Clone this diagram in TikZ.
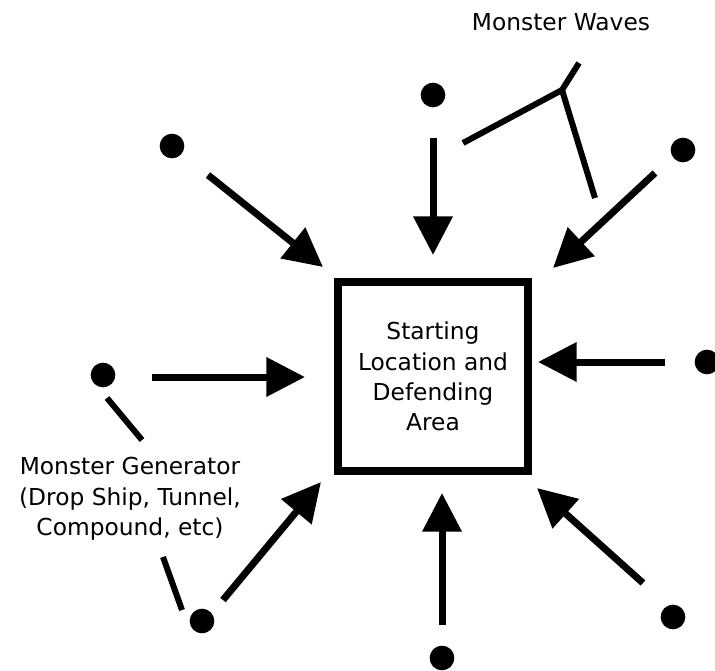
\documentclass[tikz,border=0pt]{standalone}
\usepackage{fontspec}
\setmainfont{DejaVu Sans}
\usepackage{tikz}
\usetikzlibrary{positioning, arrows.meta}

\begin{document}
\begin{tikzpicture}[x=0.75pt, y=-0.75pt,
    spawn/.style={circle, fill=black, inner sep=0pt, minimum size=18.5pt},
    push/.style={line width=5.25pt, -{Triangle[length=29pt, width=28.5pt]}},
    pointer/.style={line width=4.5pt},
    lbl/.style={font=\fontsize{17.5}{22.8}\selectfont, align=center}]
    \useasboundingbox (0,0) rectangle (715,671);

    % Defending area
    \node[draw, line width=6pt, minimum width=142.5pt, minimum height=142pt, lbl]
        (base) at (433,376.5) {Starting\\Location and\\Defending\\Area};

    % Spawn points
    \node[spawn] (sT)  at (433,95) {};
    \node[spawn] (sTL) at (172,146) {};
    \node[spawn] (sTR) at (683,150) {};
    \node[spawn] (sR)  at (707,362) {};
    \node[spawn] (sL)  at (103,375) {};
    \node[spawn] (sBL) at (202,621) {};
    \node[spawn] (sB)  at (442,658) {};
    \node[spawn] (sBR) at (673,617) {};

    % Arrow ends
    \coordinate (aT1) at (433,138);  \coordinate (aT2) at (433,255);
    \coordinate (aTL1) at (208,175); \coordinate (aTL2) at (323,267);
    \coordinate (aTR1) at (655,173); \coordinate (aTR2) at (553,268);
    \coordinate (aR1) at (665,362);  \coordinate (aR2) at (538,362);
    \coordinate (aL1) at (152,377);  \coordinate (aL2) at (305,377);
    \coordinate (aBL1) at (223,600); \coordinate (aBL2) at (321,482);
    \coordinate (aB1) at (442,625);  \coordinate (aB2) at (442,493);
    \coordinate (aBR1) at (643,583); \coordinate (aBR2) at (537,488);

    % Waves
    \draw[push] (aT1) -- (aT2);
    \draw[push] (aTL1) -- (aTL2);
    \draw[push] (aTR1) -- (aTR2);
    \draw[push] (aR1) -- (aR2);
    \draw[push] (aL1) -- (aL2);
    \draw[push] (aBL1) -- (aBL2);
    \draw[push] (aB1) -- (aB2);
    \draw[push] (aBR1) -- (aBR2);

    % Labels
    \node[lbl] (waves) at (561,22) {Monster Waves};
    \node[lbl] (gen) at (130,499) {Monster Generator\\(Drop Ship, Tunnel,\\Compound, etc)};

    % Label pointers
    \coordinate (wJ) at (562,90);
    \coordinate (wUp) at (579,63);
    \coordinate (wL) at (463,143);
    \coordinate (wD) at (595,198);
    \draw[pointer] (wL) -- (wJ) -- (wD);
    \draw[pointer] (wJ) -- (wUp);
    \coordinate (g1a) at (107,398); \coordinate (g1b) at (142,440);
    \coordinate (g2a) at (163,557); \coordinate (g2b) at (182,610);
    \draw[pointer] (g1a) -- (g1b);
    \draw[pointer] (g2a) -- (g2b);
\end{tikzpicture}
\end{document}
